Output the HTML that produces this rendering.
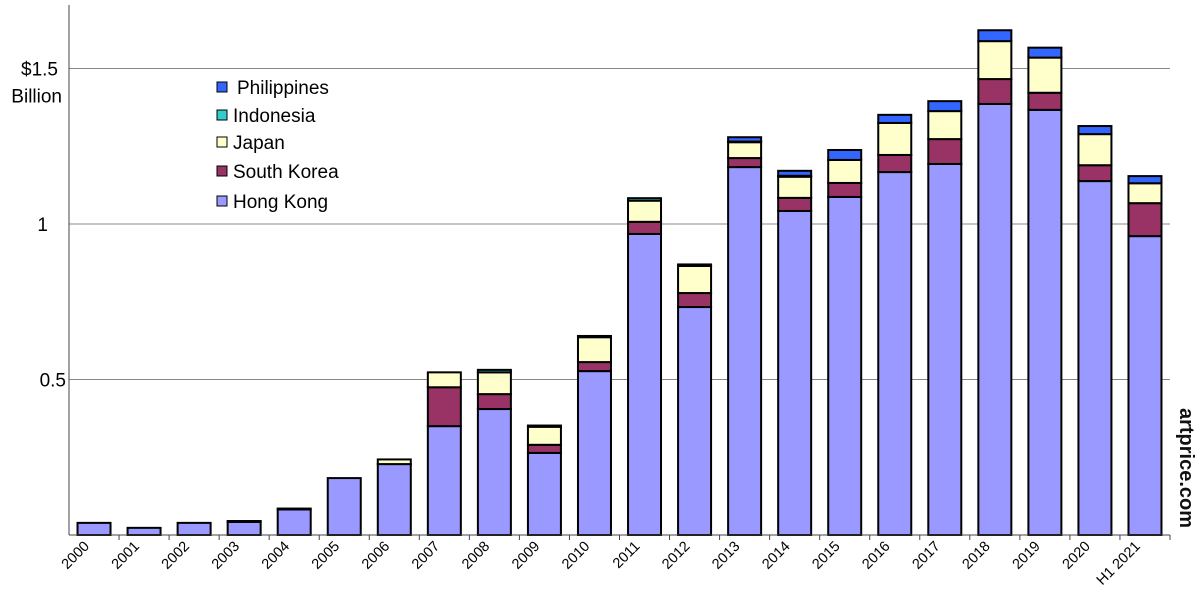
<!DOCTYPE html>
<html><head><meta charset="utf-8"><style>
body{margin:0;background:#fff}
svg{font-family:"Liberation Sans",Arial,sans-serif}
</style></head><body>
<svg id="chart" width="1200" height="605" viewBox="0 0 1200 605">
<g id="grid"></g>
<g id="bars"></g>
<g id="axes"></g>
<g id="legend"></g>
<text transform="translate(1180,468) rotate(90)" text-anchor="middle" font-size="20" font-weight="bold" fill="#111">artprice.com</text>
</svg>
<script>
const categories=["2000","2001","2002","2003","2004","2005","2006","2007","2008","2009","2010","2011","2012","2013","2014","2015","2016","2017","2018","2019","2020","H1 2021"];
const hongKong=[0.039,0.023,0.039,0.042,0.082,0.183,0.228,0.35,0.405,0.264,0.527,0.968,0.733,1.183,1.042,1.087,1.167,1.193,1.386,1.367,1.138,0.961];
const southKorea=[0,0,0,0,0,0,0,0.125,0.048,0.026,0.029,0.039,0.045,0.029,0.042,0.045,0.055,0.080,0.080,0.055,0.051,0.106];
const japan=[0,0,0,0.003,0.003,0,0.015,0.048,0.07,0.058,0.08,0.068,0.087,0.051,0.068,0.074,0.103,0.090,0.122,0.113,0.10,0.064];
const indonesia=[0,0,0,0,0,0,0,0,0.008,0.004,0.004,0.008,0.005,0.002,0.003,0,0,0,0,0,0,0];
const philippines=[0,0,0,0,0,0,0,0,0,0,0,0,0,0.014,0.016,0.032,0.026,0.032,0.035,0.032,0.026,0.023];
const yTicks=[0.5,1,1.5];
const yTickLabels=["0.5","1","$1.5"];
const seriesNames=["Philippines","Indonesia","Japan","South Korea","Hong Kong"];

const NS="http://www.w3.org/2000/svg";
const X0=69,X1=1170,Y0=535,PX=311;
const step=(X1-X0)/categories.length;
const bw=33;
const y=v=>Y0-v*PX;
const xc=i=>X0+step*(i+0.5);
function mk(tag,at,parent){const e=document.createElementNS(NS,tag);for(const k in at)e.setAttribute(k,at[k]);parent.appendChild(e);return e;}
const grid=document.getElementById('grid'),bars=document.getElementById('bars'),axes=document.getElementById('axes'),legend=document.getElementById('legend');
yTicks.forEach((t,i)=>{
  const l=mk('line',{x1:X0,x2:X1,y1:y(t),y2:y(t),stroke:'#888','stroke-width':1},grid);
  
  
  const tx=mk('text',{x:i==2?58:(i==1?48:66),y:y(t)+7,'text-anchor':'end','font-size':19,fill:'#000'},axes);
  tx.textContent=yTickLabels[i];
  
  
});
const bl=mk('text',{x:62,y:y(1.5)+34,'text-anchor':'end','font-size':19},axes);bl.textContent='Billion';


const series=[[hongKong,'#9999ff','hong-kong'],[southKorea,'#993366','south-korea'],[japan,'#ffffcc','japan'],[indonesia,'#33cccc','indonesia'],[philippines,'#3366ff','philippines']];
categories.forEach((c,i)=>{
  let base=0;
  series.forEach(([arr,col,nm])=>{
    const v=arr[i];if(v<=0)return;
    const r=mk('rect',{x:xc(i)-bw/2,y:y(base+v),width:bw,height:v*PX,fill:col,stroke:'#000','stroke-width':2},bars);
    
    
    base+=v;
  });
  const t=mk('line',{x1:X0+step*(i+1),x2:X0+step*(i+1),y1:Y0,y2:Y0+5,stroke:'#444'},axes);
  
  
  const lab=mk('text',{transform:`translate(${xc(i)-4},${Y0+12}) rotate(-45)`,'text-anchor':'end','font-size':14.5},axes);
  lab.textContent=c;
  
  
});
const ax=mk('line',{x1:X0,x2:X0,y1:5,y2:Y0,stroke:'#444','stroke-width':1},axes);


const axx=mk('line',{x1:X0,x2:X1,y1:Y0,y2:Y0,stroke:'#444','stroke-width':1},axes);


const lcols=['#3366ff','#33cccc','#ffffcc','#993366','#9999ff'];
const ly=[88,116,143,172,202];
seriesNames.forEach((n,i)=>{
  const g=mk('g',{},legend);
  
  
  mk('rect',{x:217,y:ly[i]-6,width:10,height:10,fill:lcols[i],stroke:'#000','stroke-width':1},g);
  const t=mk('text',{x:i==0?237:233,y:ly[i]+6,'font-size':19},g);t.textContent=n;
});
</script>
</body></html>
